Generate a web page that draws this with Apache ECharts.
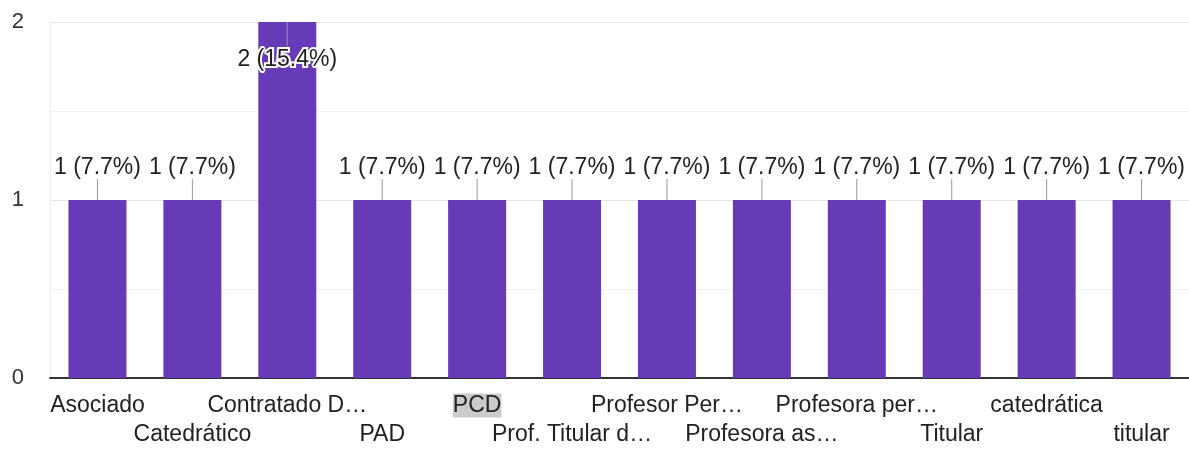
<!DOCTYPE html>
<html>
<head>
<meta charset="utf-8">
<script src="https://cdn.jsdelivr.net/npm/echarts@6/dist/echarts.min.js"></script>
<style>
html,body{margin:0;padding:0;background:#fff;}
#chart{width:1189px;height:449px;}
</style>
</head>
<body>
<div id="chart"></div>
<script>
const categories = ['Asociado','Catedrático','Contratado D…','PAD','PCD','Prof. Titular d…','Profesor Per…','Profesora as…','Profesora per…','Titular','catedrática','titular'];
const values = [1,1,2,1,1,1,1,1,1,1,1,1];
const yTicks = [0,1,2];
const highlighted = 'PCD';

const total = values.reduce((a,b)=>a+b,0);
const FONT = '"Liberation Sans", Arial, sans-serif';
const chart = echarts.init(document.getElementById('chart'));

chart.setOption({
  animation: false,
  grid: {left: 50, right: 0, top: 22, bottom: 70, containLabel: false},
  xAxis: {
    type: 'category',
    data: categories,
    axisLine: {show: true, lineStyle: {color: '#333', width: 2}},
    axisTick: {show: false},
    axisLabel: {
      interval: 0,
      hideOverlap: false,
      margin: 13,
      color: '#222',
      fontFamily: FONT,
      fontSize: 23,
      lineHeight: 29,
      formatter: function (v, i) {
        const t = v === highlighted ? '{hl|' + v + '}' : '{n|' + v + '}';
        return i % 2 ? '{n|}\n' + t : t;
      },
      rich: {
        n: {fontFamily: FONT, fontSize: 23, color: '#222', lineHeight: 29},
        hl: {fontFamily: FONT, fontSize: 23, color: '#222', lineHeight: 29, backgroundColor: '#cbcbcb', padding: [1, 0, 0, 0]}
      }
    }
  },
  yAxis: {
    type: 'value',
    min: 0,
    max: 2,
    interval: 0.5,
    axisLine: {show: true, lineStyle: {color: '#ececec', width: 1}},
    axisTick: {show: false},
    axisLabel: {
      margin: 26,
      color: '#333',
      fontFamily: FONT,
      fontSize: 22,
      formatter: function (v) { return yTicks.indexOf(v) >= 0 ? String(v) : ''; }
    },
    splitLine: {show: true, lineStyle: {color: ['#e4e4e4', '#f1f1f1'], width: 1}}
  },
  series: [
    {
      type: 'bar',
      data: values,
      barWidth: 58,
      itemStyle: {color: '#673ab7'},
      z: 2
    },
    {
      type: 'custom',
      z: 5,
      data: values.map((v, i) => [i, v]),
      renderItem: function (params, api) {
        const p = api.coord([api.value(0), api.value(1)]);
        const top = params.coordSys.y;
        const up = p[1] - 50 > top;
        const v = api.value(1);
        const txt = v + ' (' + (v / total * 100).toFixed(1) + '%)';
        const y2 = up ? p[1] - 21 : p[1] + 24;
        const ty = up ? p[1] - 32 : p[1] + 38;
        return {
          type: 'group',
          children: [
            {type: 'line', shape: {x1: p[0], y1: p[1], x2: p[0], y2: y2}, style: {stroke: '#999', lineWidth: 1}},
            {type: 'text', x: p[0], y: ty, style: {text: txt, fill: '#222', font: '23px ' + FONT, align: 'center', verticalAlign: 'middle', stroke: '#fff', lineWidth: 4}}
          ]
        };
      }
    }
  ]
});
</script>
</body>
</html>
